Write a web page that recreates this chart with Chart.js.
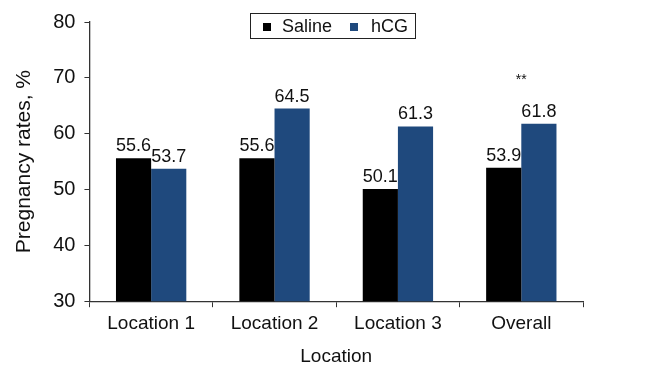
<!DOCTYPE html>
<html>
<head>
<meta charset="utf-8">
<script src="https://cdn.jsdelivr.net/npm/chart.js@4"></script>
<style>
  html, body { margin: 0; padding: 0; background: #fff; }
  #wrap { width: 645px; height: 366px; }
</style>
</head>
<body>
<div id="wrap"><canvas id="chart" width="645" height="366"></canvas></div>
<script>
const categories = ['Location 1', 'Location 2', 'Location 3', 'Overall'];
const seriesNames = ['Saline', 'hCG'];
const saline = [55.6, 55.6, 50.1, 53.9];
const hcg = [53.7, 64.5, 61.3, 61.8];
const yTicks = [30, 40, 50, 60, 70, 80];
const marks = ['', '', '', '**']; // significance marks per category

const FONT = 'Liberation Sans, Arial, sans-serif';
const colors = ['#000000', '#1F497D'];

// value labels above each bar, plus the ** marker
const valueLabels = {
    id: 'valueLabels',
    afterDatasetsDraw(chart) {
        const ctx = chart.ctx;
        ctx.save();
        ctx.fillStyle = '#111';
        ctx.textAlign = 'center';
        ctx.textBaseline = 'bottom';
        chart.data.datasets.forEach((ds, i) => {
            chart.getDatasetMeta(i).data.forEach((bar, j) => {
                ctx.font = '18px ' + FONT;
                ctx.fillText(ds.data[j].toFixed(1), bar.x, bar.y - 3);
                if (i === 1 && marks[j]) {
                    ctx.font = '14px ' + FONT;
                    ctx.fillText(marks[j], bar.x - bar.width / 2, bar.y - 36);
                }
            });
        });
        ctx.restore();
    }
};

// boxed legend sitting over the top of the plot
const boxLegend = {
    id: 'boxLegend',
    afterDraw(chart) {
        const ctx = chart.ctx;
        ctx.save();
        const x0 = 250, y0 = 13, w = 165, h = 25;
        ctx.fillStyle = '#fff';
        ctx.fillRect(x0, y0, w, h);
        ctx.strokeStyle = '#222';
        ctx.lineWidth = 1;
        ctx.strokeRect(x0 + 0.5, y0 + 0.5, w, h);
        ctx.font = '18px ' + FONT;
        ctx.textBaseline = 'middle';
        const items = [[263, 282], [350, 371]];
        seriesNames.forEach((name, i) => {
            ctx.fillStyle = colors[i];
            ctx.fillRect(items[i][0], y0 + 10, 8, 8);
            ctx.fillStyle = '#111';
            ctx.fillText(name, items[i][1], y0 + 14);
        });
        ctx.restore();
    }
};

new Chart(document.getElementById('chart'), {
    type: 'bar',
    data: {
        labels: categories,
        datasets: [
            { label: seriesNames[0], data: saline, backgroundColor: colors[0] },
            { label: seriesNames[1], data: hcg, backgroundColor: colors[1] }
        ]
    },
    options: {
        responsive: false,
        animation: false,
        events: [],
        layout: { padding: { top: 22, right: 62, left: 8, bottom: 0 } },
        datasets: { bar: { categoryPercentage: 0.57, barPercentage: 1.0 } },
        plugins: {
            legend: { display: false },
            tooltip: { enabled: false }
        },
        scales: {
            x: {
                grid: { display: true, drawOnChartArea: false, tickLength: 6, tickColor: '#333', offset: true },
                border: { color: '#333', width: 1.3 },
                ticks: { color: '#111', font: { family: FONT, size: 19 }, padding: 5 },
                title: { display: true, text: 'Location', color: '#111', font: { family: FONT, size: 19, lineHeight: 1.0 }, padding: { top: 7, bottom: 0 } }
            },
            y: {
                min: 30,
                max: 80,
                afterBuildTicks(axis) { axis.ticks = yTicks.map(v => ({ value: v })); },
                grid: { display: true, drawOnChartArea: false, tickLength: 5, tickColor: '#333' },
                border: { color: '#333', width: 1.3 },
                ticks: { color: '#111', font: { family: FONT, size: 20 }, padding: 9 },
                title: { display: true, text: 'Pregnancy rates, %', color: '#111', font: { family: FONT, size: 21 }, padding: { top: 4, bottom: 7 } }
            }
        }
    },
    plugins: [valueLabels, boxLegend]
});
</script>
</body>
</html>
